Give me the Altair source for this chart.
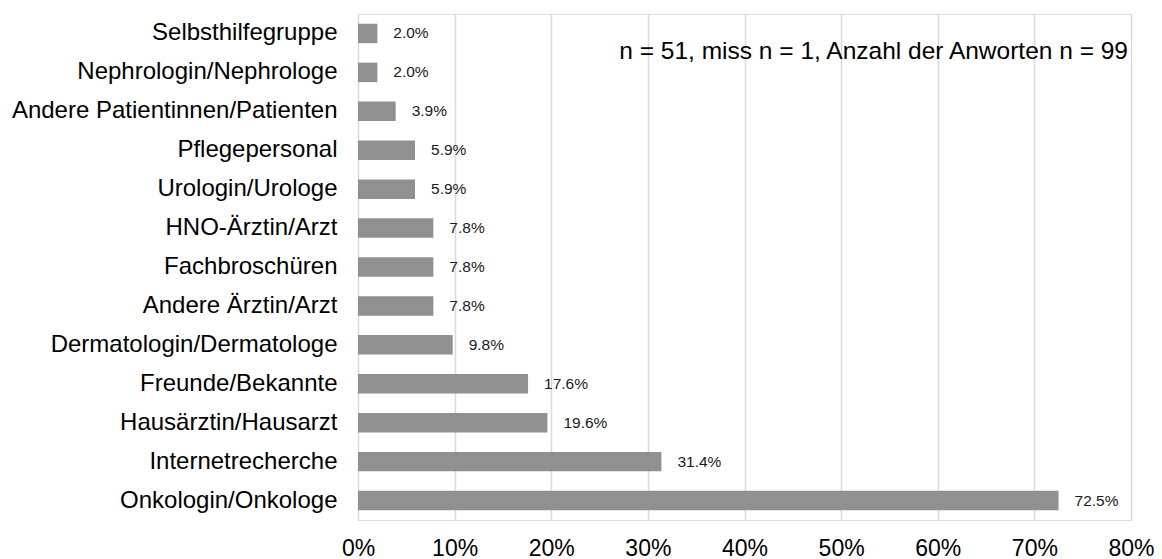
import altair as alt
import pandas as pd

# Informationsquellen, von oben nach unten
quellen = [
    "Selbsthilfegruppe",
    "Nephrologin/Nephrologe",
    "Andere Patientinnen/Patienten",
    "Pflegepersonal",
    "Urologin/Urologe",
    "HNO-Ärztin/Arzt",
    "Fachbroschüren",
    "Andere Ärztin/Arzt",
    "Dermatologin/Dermatologe",
    "Freunde/Bekannte",
    "Hausärztin/Hausarzt",
    "Internetrecherche",
    "Onkologin/Onkologe",
]
anteile = [0.020, 0.020, 0.039, 0.059, 0.059, 0.078, 0.078, 0.078, 0.098, 0.176, 0.196, 0.314, 0.725]
x_ticks = [0, 0.1, 0.2, 0.3, 0.4, 0.5, 0.6, 0.7, 0.8]
hinweis = "n = 51, miss n = 1, Anzahl der Anworten n = 99"

df = pd.DataFrame({"quelle": quellen, "anteil": anteile})

FONT = "Liberation Sans"

x_enc = alt.X(
    "anteil:Q",
    scale=alt.Scale(domain=[0, 0.8], nice=False),
    axis=alt.Axis(
        values=x_ticks,
        format=".0%",
        title=None,
        domain=False,
        ticks=False,
        grid=True,
        gridColor="#d9d9d9",
        gridWidth=1.5,
        labelFontSize=23,
        labelColor="#000000",
        labelFont=FONT,
        labelPadding=17,
        labelFlush=False,
    ),
)
y_enc = alt.Y(
    "quelle:N",
    sort=quellen,
    scale=alt.Scale(paddingInner=0.5, paddingOuter=0.25),
    axis=alt.Axis(
        title=None,
        domain=False,
        ticks=False,
        grid=False,
        labelFontSize=24,
        labelColor="#000000",
        labelFont=FONT,
        labelPadding=21,
        labelLimit=400,
    ),
)

bars = alt.Chart(df).mark_bar(color="#909090").encode(x=x_enc, y=y_enc)

labels = alt.Chart(df).mark_text(
    align="left", baseline="middle", dx=16, fontSize=15.5, font=FONT, color="#1a1a1a"
).encode(
    x="anteil:Q",
    y=alt.Y("quelle:N", sort=quellen),
    text=alt.Text("anteil:Q", format=".1%"),
)

note = alt.Chart(pd.DataFrame({"t": [hinweis]})).mark_text(
    align="right", baseline="middle", fontSize=24.5, font=FONT, color="#000000"
).encode(x=alt.value(770), y=alt.value(38), text="t:N")

chart = (
    alt.layer(bars, labels, note)
    .properties(
        width=773,
        height=506,
        autosize=alt.AutoSizeParams(type="none"),
        padding={"left": 358, "top": 14, "right": 31, "bottom": 39},
    )
    .configure_view(stroke=None)
    .configure(background="#ffffff")
)

chart.save("out.html", embed_options={"renderer": "svg", "actions": False})
